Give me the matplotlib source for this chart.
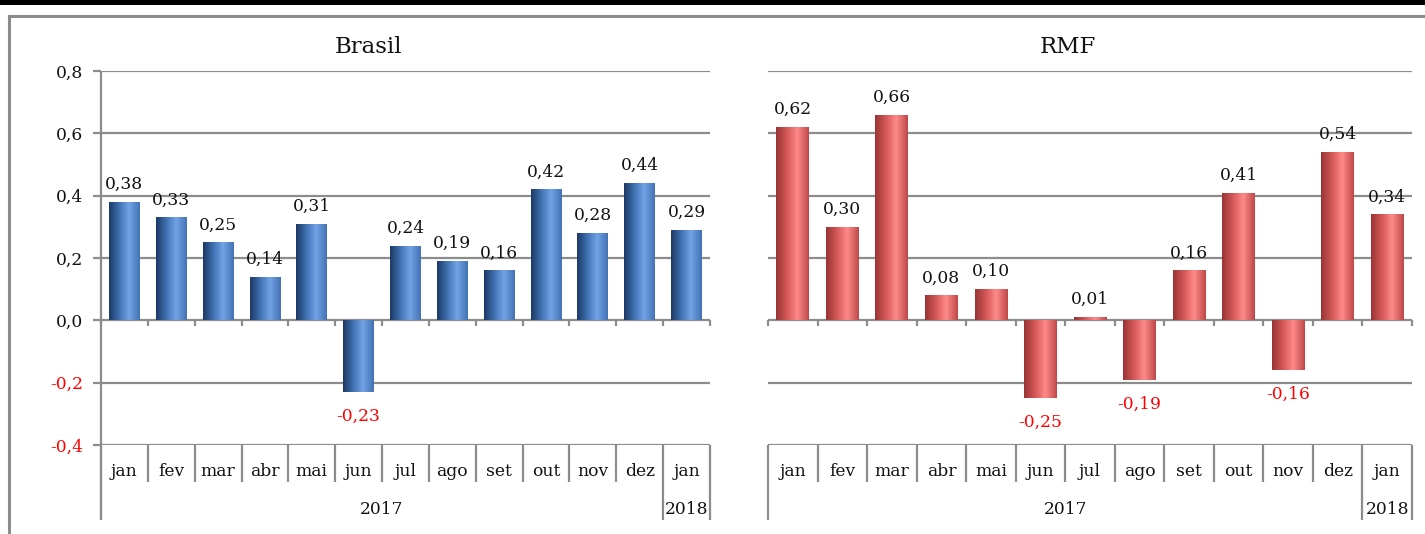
import numpy as np
import matplotlib
matplotlib.use("Agg")
import matplotlib.pyplot as plt
from matplotlib.colors import LinearSegmentedColormap
from matplotlib.lines import Line2D
from matplotlib.patches import Rectangle
import matplotlib.transforms as mtransforms

months = ["jan", "fev", "mar", "abr", "mai", "jun", "jul", "ago", "set", "out", "nov", "dez", "jan"]
years = ["2017", "2018"]
year_spans = [(0, 11), (12, 12)]
brasil = [0.38, 0.33, 0.25, 0.14, 0.31, -0.23, 0.24, 0.19, 0.16, 0.42, 0.28, 0.44, 0.29]
rmf = [0.62, 0.30, 0.66, 0.08, 0.10, -0.25, 0.01, -0.19, 0.16, 0.41, -0.16, 0.54, 0.34]
yticks = [-0.4, -0.2, 0.0, 0.2, 0.4, 0.6, 0.8]
titles = ["Brasil", "RMF"]

FONT = "DejaVu Serif"
plt.rcParams["font.family"] = [FONT, "DejaVu Sans"]
GRID = "#8c8c8c"
FS = 12.3

W, H = 1425, 534
fig = plt.figure(figsize=(W / 100, H / 100), dpi=100)

def fx(px):
    return px / W

def fy(py):
    return 1 - py / H

blue_cmap = LinearSegmentedColormap.from_list(
    "b", [(0, "#1d3a66"), (0.35, "#4274b6"), (0.65, "#72a3e6"), (1.0, "#4373b4")])
red_cmap = LinearSegmentedColormap.from_list(
    "r", [(0, "#9a3434"), (0.35, "#d85a5a"), (0.65, "#ff8a8a"), (1.0, "#c04848")])

panels = [
    (brasil, blue_cmap, (101, 710), True, 368),
    (rmf, red_cmap, (768, 1412), False, 1068),
]

ytop, ybot = 71, 445
for (vals, cmap, (xl, xr), show_y, tx), title in zip(panels, titles):
    ax = fig.add_axes([fx(xl), fy(ybot), fx(xr) - fx(xl), fy(ytop) - fy(ybot)])
    n = len(vals)
    x = np.arange(n)
    bars = ax.bar(x, vals, width=0.66, color="none", edgecolor="none", zorder=3)
    grad = np.linspace(0, 1, 64).reshape(1, -1)
    for p in bars:
        x0, y0, w, h = p.get_x(), p.get_y(), p.get_width(), p.get_height()
        im = ax.imshow(grad, cmap=cmap, aspect="auto", extent=[x0, x0 + w, y0, y0 + h],
                       zorder=3, interpolation="bilinear")
        im.set_clip_path(p)
    ax.set_xlim(-0.5, n - 0.5)
    ax.set_ylim(-0.4, 0.8)
    for s in ax.spines.values():
        s.set_visible(False)
    for yv in yticks:
        ax.axhline(yv, color=GRID, lw=1.6, zorder=2)
    ax.set_xticks([])
    trans = mtransforms.blended_transform_factory(ax.transData, ax.transAxes)
    px_per_axes = 1.0 / (ybot - ytop)
    for b in np.arange(-0.5, n, 1.0):
        ax.plot([b, b], [0, -6 * 1.2 / (ybot - ytop)], color=GRID, lw=1.6,
                clip_on=False, zorder=2, solid_capstyle="butt")
    year_bounds = set()
    for (a, bnd) in year_spans:
        year_bounds.add(a - 0.5)
        year_bounds.add(bnd + 0.5)
    for b in np.arange(-0.5, n, 1.0):
        bottom = -75 * px_per_axes if b in year_bounds else -37 * px_per_axes
        ax.plot([b, b], [0, bottom], color=GRID, lw=1.6, transform=trans,
                clip_on=False, solid_capstyle="butt")
    for i, m in enumerate(months):
        ax.text(i, -26 * px_per_axes, m, transform=trans, ha="center", va="center",
                fontsize=FS, color="#111111")
    for yr, (a, bnd) in zip(years, year_spans):
        ax.text((a + bnd) / 2, -64 * px_per_axes, yr, transform=trans, ha="center",
                va="center", fontsize=FS, color="#111111")
    if show_y:
        ax.plot([-0.5, -0.5], [1, -75 * px_per_axes], color=GRID, lw=1.6,
                transform=trans, clip_on=False, solid_capstyle="butt")
        ax.set_yticks(yticks)
        ax.set_yticklabels([f"{v:.1f}".replace(".", ",") for v in yticks], fontsize=FS)
        for lab, v in zip(ax.get_yticklabels(), yticks):
            lab.set_color("red" if v < 0 else "#111111")
        ax.tick_params(axis="y", length=6, width=1.6, color=GRID, pad=7)
    else:
        ax.set_yticks([])
    for i, v in enumerate(vals):
        lab = f"{v:.2f}".replace(".", ",")
        if v >= 0:
            ax.annotate(lab, (i, v), xytext=(0, 13), textcoords="offset pixels",
                        ha="center", va="baseline", fontsize=FS, color="#111111", zorder=4)
        else:
            ax.annotate(lab, (i, v), xytext=(0, -16), textcoords="offset pixels",
                        ha="center", va="top", fontsize=FS, color="red", zorder=4)
    fig.text(fx(tx), fy(47), title, ha="center", va="center", fontsize=16.5, color="#111111")

fig.add_artist(Rectangle((0, fy(5)), 1, 1 - fy(5), transform=fig.transFigure,
                         color="black", lw=0))
fig.add_artist(Line2D([fx(9), 1], [fy(16), fy(16)], color=GRID, lw=2.2, transform=fig.transFigure))
fig.add_artist(Line2D([fx(9), fx(9)], [fy(16), 0], color=GRID, lw=2.2, transform=fig.transFigure))

fig.savefig("out.png", dpi=100)
